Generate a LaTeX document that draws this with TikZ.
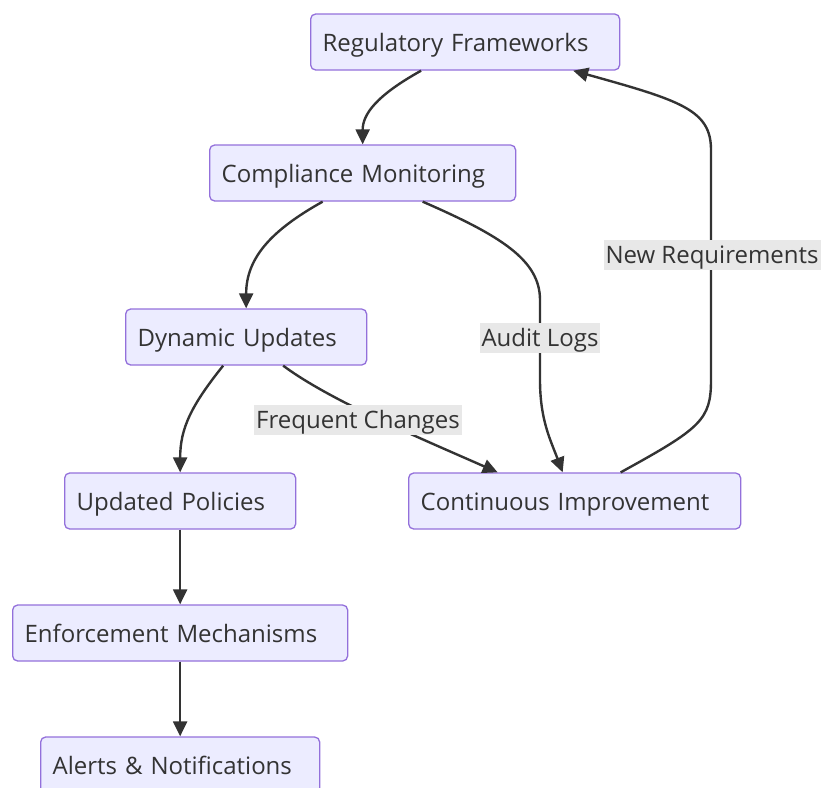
\documentclass[tikz,border=0pt]{standalone}
\usepackage{fontspec}
\setmainfont{Open Sans}
\usepackage{tikz}
\usetikzlibrary{arrows.meta}
\definecolor{boxfill}{HTML}{ECECFF}
\definecolor{boxline}{HTML}{9370DB}
\definecolor{ink}{HTML}{333333}
\definecolor{lblfill}{HTML}{E8E8E8}

\begin{document}
\begin{tikzpicture}[x=1pt,y=-1pt,
	box/.style={draw=boxline,fill=boxfill,line width=1.3pt,rounded corners=5pt,
		minimum height=56pt,inner xsep=12pt,align=left,anchor=west,text=ink,
		text height=23pt,text depth=5pt,font=\fontsize{24}{28}\selectfont},
	lbl/.style={fill=lblfill,inner sep=2pt,text=ink,text height=21pt,text depth=5pt,
		font=\fontsize{24}{28}\selectfont},
	edge/.style={draw=ink,line width=2.4pt,-{Triangle[length=15pt,width=14pt]}}]
	\useasboundingbox (0,0) rectangle (821,787);
	
	\node[box,text width=285pt] (rf) at (310,42) {Regulatory Frameworks};
	\node[box,text width=282pt] (cm) at (209,173) {Compliance Monitoring};
	\node[box,text width=217pt] (du) at (125,337) {Dynamic Updates};
	\node[box,text width=207pt] (up) at (64,501) {Updated Policies};
	\node[box,text width=311pt] (em) at (12,633) {Enforcement Mechanisms};
	\node[box,text width=255pt] (an) at (40,765) {Alerts \& Notifications};
	\node[box,text width=308pt] (ci) at (408,501) {Continuous Improvement};
	
	\draw[edge] ([xshift=-44pt]rf.south) .. controls +(-45,25) and +(0,-30) .. (cm.north);
	\draw[edge] ([xshift=-40pt]cm.south) .. controls +(-52,29) and +(0,-50) .. (du.north);
	\draw[edge] ([xshift=60pt]cm.south) .. controls +(78,34) and +(0,-40) .. (540,300)
		-- (540,380) .. controls +(0,40) and +(-12,-32) .. ([xshift=-12pt]ci.north);
	\draw[edge] ([xshift=-23pt]du.south) .. controls +(-32,40) and +(0,-44) .. (up.north);
	\draw[edge] ([xshift=37pt]du.south) .. controls +(47,35) and +(-77,-34) .. ([xshift=-77pt]ci.north);
	\draw[edge] (up) -- (em);
	\draw[edge] (em) -- (an);
	\draw[edge] ([xshift=46pt]ci.north) .. controls +(80,-44) and +(0,40) .. (711,380)
		-- (711,150) .. controls +(0,-40) and +(108,30) .. ([xshift=108pt]rf.south);
	
	% edge labels
	\node[lbl] (req) at (712,255) {New Requirements};
	\node[lbl] (log) at (540,338) {Audit Logs};
	\node[lbl] (chg) at (358,420) {Frequent Changes};
\end{tikzpicture}
\end{document}
